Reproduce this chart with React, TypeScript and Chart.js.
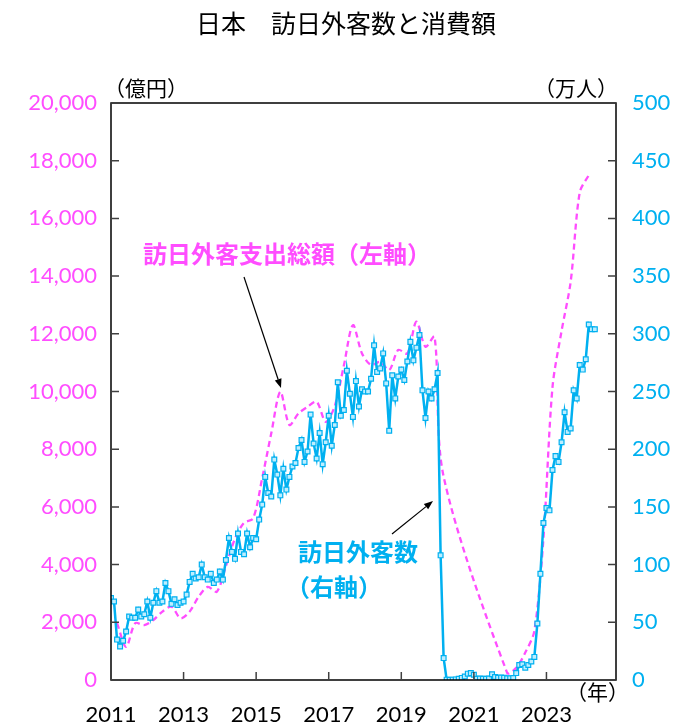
import React, { useEffect, useRef } from "react";
import { Chart, registerables } from "chart.js";

Chart.register(...registerables);

// x axis: month index from 2011-01 (0) to 2024-12 (167)
const START_YEAR = 2011;
const yearTickLabels = [2011, 2013, 2015, 2017, 2019, 2021, 2023];

// 訪日外客数（万人）monthly, right axis
const visitors2011 = [71, 68, 35, 29, 34, 42, 55, 54, 54, 61, 55, 57];
const visitors2012 = [68, 54, 67, 77, 67, 68, 84, 77, 66, 70, 65, 67];
const visitors2013 = [68, 74, 85, 92, 88, 89, 100, 89, 87, 92, 84, 87];
const visitors2014 = [94, 87, 104, 123, 111, 105, 127, 111, 109, 127, 115, 123];
const visitors2015 = [122, 139, 152, 176, 162, 159, 191, 178, 160, 183, 165, 176];
const visitors2016 = [185, 188, 201, 208, 189, 198, 230, 205, 192, 214, 187, 206];
const visitors2017 = [229, 203, 221, 258, 229, 234, 268, 248, 228, 259, 237, 252];
const visitors2018 = [250, 250, 261, 290, 267, 270, 283, 257, 216, 264, 244, 263];
const visitors2019 = [269, 260, 276, 293, 277, 288, 299, 251, 227, 250, 244, 252];
const visitors2020 = [266, 108, 19, 0.3, 0.2, 0.3, 0.5, 1.0, 1.8, 3, 5.5, 6];
const visitors2021 = [4.5, 1, 1.2, 1.1, 1.0, 1.3, 5, 2.6, 1.9, 2.1, 2.0, 1.5];
const visitors2022 = [1.4, 1.7, 6, 13, 13.6, 10.7, 13, 16, 20, 49, 92, 136];
const visitors2023 = [149, 147, 182, 194, 189, 206, 232, 215, 218, 251, 244, 273];
const visitors2024 = [269, 278, 308, 304, 304];

// 訪日外客支出総額（億円）quarterly (plotted at quarter-end month), left axis
const spending2011 = [1970, 1150, 1970, 1900];
const spending2012 = [2080, 2370, 2540, 2140];
const spending2013 = [2370, 2890, 3230, 3060];
const spending2014 = [3950, 4900, 5450, 5600];
const spending2015 = [7000, 8550, 9990, 8840];
const spending2016 = [9240, 9470, 9645, 8950];
const spending2017 = [9500, 10900, 12300, 11320];
const spending2018 = [10920, 11030, 10745, 11440];
const spending2019 = [11320, 12420, 11550, 11900];
const spending2020 = [7050, null, null, null];
const spending2021 = [null, null, null, 250];
const spending2022 = [420, 950, 1700, 4900];
const spending2023 = [10150, 12100, 13800, 16900];
const spending2024 = [17500];

const visitors = [
  ...visitors2011, ...visitors2012, ...visitors2013, ...visitors2014,
  ...visitors2015, ...visitors2016, ...visitors2017, ...visitors2018,
  ...visitors2019, ...visitors2020, ...visitors2021, ...visitors2022,
  ...visitors2023, ...visitors2024,
];
const spending: (number | null)[] = [
  ...spending2011, ...spending2012, ...spending2013, ...spending2014,
  ...spending2015, ...spending2016, ...spending2017, ...spending2018,
  ...spending2019, ...spending2020, ...spending2021, ...spending2022,
  ...spending2023, ...spending2024,
];

const PINK = "#FF4DFF";
const BLUE = "#00B0F0";
const CJK = "'Noto Sans CJK JP', sans-serif";
const NUM = "Lato, 'Noto Sans', sans-serif";

function drawArrow(ctx: CanvasRenderingContext2D, x1: number, y1: number, x2: number, y2: number) {
  const ang = Math.atan2(y2 - y1, x2 - x1);
  const len = 9;
  const hw = 3.5;
  const bx = x2 - len * Math.cos(ang);
  const by = y2 - len * Math.sin(ang);
  ctx.beginPath();
  ctx.moveTo(x1, y1);
  ctx.lineTo(bx, by);
  ctx.stroke();
  ctx.beginPath();
  ctx.moveTo(x2, y2);
  ctx.lineTo(bx + hw * Math.sin(ang), by - hw * Math.cos(ang));
  ctx.lineTo(bx - hw * Math.sin(ang), by + hw * Math.cos(ang));
  ctx.closePath();
  ctx.fill();
}

const decor = {
  id: "decor",
  afterDraw(chart: any) {
    const ctx: CanvasRenderingContext2D = chart.ctx;
    const { left, right, top, bottom } = chart.chartArea;
    const yL = chart.scales.yL;
    const yR = chart.scales.yR;
    const xs = chart.scales.x;
    ctx.save();
    // frame
    ctx.strokeStyle = "#000";
    ctx.lineWidth = 1.5;
    ctx.strokeRect(left, top, right - left, bottom - top);
    // inward tick marks
    ctx.strokeStyle = "#404040";
    ctx.lineWidth = 1.5;
    ctx.beginPath();
    yL.ticks.forEach((t: any) => {
      const py = yL.getPixelForValue(t.value);
      ctx.moveTo(left, py);
      ctx.lineTo(left + 8, py);
    });
    yR.ticks.forEach((t: any) => {
      const py = yR.getPixelForValue(t.value);
      ctx.moveTo(right, py);
      ctx.lineTo(right - 8, py);
    });
    xs.ticks.forEach((t: any) => {
      const px = xs.getPixelForValue(t.value);
      ctx.moveTo(px, bottom);
      ctx.lineTo(px, bottom - 8);
    });
    ctx.stroke();

    // title
    ctx.fillStyle = "#000";
    ctx.textBaseline = "middle";
    ctx.textAlign = "center";
    ctx.font = `25px ${CJK}`;
    ctx.fillText("日本　訪日外客数と消費額", 346, 23);

    // unit labels
    ctx.textAlign = "left";
    ctx.font = `21px ${CJK}`;
    ctx.fillText("（億円）", 104, 88);
    ctx.fillText("（万人）", 534, 88);
    ctx.fillText("（年）", 566, 692);

    // annotations
    ctx.font = `bold 24px ${CJK}`;
    ctx.fillStyle = PINK;
    ctx.fillText("訪日外客支出総額（左軸）", 143, 254);
    ctx.fillStyle = BLUE;
    ctx.fillText("訪日外客数", 298, 552);
    ctx.fillText("（右軸）", 286, 587);

    // arrows
    ctx.strokeStyle = "#000";
    ctx.fillStyle = "#000";
    ctx.lineWidth = 1.2;
    drawArrow(ctx, 244, 277, 281, 388);
    drawArrow(ctx, 392, 534, 433, 501);
    ctx.restore();
  },
};

export default function App() {
  const ref = useRef<HTMLCanvasElement | null>(null);

  useEffect(() => {
    if (!ref.current) return;
    const chart = new Chart(ref.current, {
      type: "line",
      data: {
        datasets: [
          {
            label: "訪日外客数（右軸）",
            data: visitors.map((v, i) => ({ x: i, y: v })),
            yAxisID: "yR",
            borderColor: BLUE,
            borderWidth: 2.5,
            pointStyle: "rect",
            pointRadius: 3.4,
            pointBorderWidth: 1.2,
            pointBorderColor: BLUE,
            pointBackgroundColor: "#bdeeff",
            tension: 0,
          },
          {
            label: "訪日外客支出総額（左軸）",
            data: spending.map((v, q) => ({ x: q * 3 + 2, y: v })),
            yAxisID: "yL",
            borderColor: PINK,
            borderWidth: 2.3,
            borderDash: [6, 4],
            pointRadius: 0,
            spanGaps: true,
            tension: 0.3,
          },
        ],
      },
      options: {
        animation: false,
        responsive: true,
        maintainAspectRatio: false,
        layout: { padding: { top: 103, left: 0, right: 0, bottom: 0 } },
        plugins: {
          legend: { display: false },
          tooltip: { enabled: false },
          title: { display: false },
        },
        scales: {
          x: {
            type: "linear",
            min: 0,
            max: 167,
            grid: { display: false },
            border: { display: false },
            afterBuildTicks: (scale: any) => {
              scale.ticks = yearTickLabels.map((y) => ({ value: (y - START_YEAR) * 12 }));
            },
            afterFit: (scale: any) => {
              scale.height = 44;
            },
            ticks: {
              autoSkip: false,
              maxRotation: 0,
              padding: 14,
              color: "#000",
              font: { family: NUM, size: 22 },
              callback: (v: any) => String(START_YEAR + Math.round(Number(v) / 12)),
            },
          },
          yL: {
            type: "linear",
            position: "left",
            min: 0,
            max: 20000,
            grid: { display: false },
            border: { display: false },
            afterFit: (scale: any) => {
              scale.width = 111;
            },
            ticks: {
              stepSize: 2000,
              padding: 6,
              color: PINK,
              font: { family: NUM, size: 22 },
              callback: (v: any) => Number(v).toLocaleString("en-US"),
            },
          },
          yR: {
            type: "linear",
            position: "right",
            min: 0,
            max: 500,
            grid: { display: false },
            border: { display: false },
            afterFit: (scale: any) => {
              scale.width = 63;
            },
            ticks: {
              stepSize: 50,
              padding: 8,
              color: BLUE,
              font: { family: NUM, size: 22 },
            },
          },
        },
      },
      plugins: [decor],
    });
    return () => chart.destroy();
  }, []);

  return (
    <div style={{ position: "fixed", left: 0, top: 0, width: 679, height: 724, background: "#fff" }}>
      <canvas ref={ref} />
    </div>
  );
}
